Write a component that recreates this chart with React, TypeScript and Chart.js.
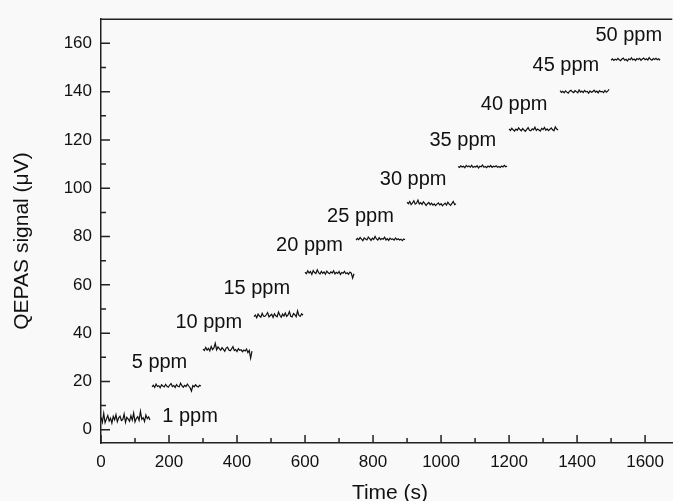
import React, { useEffect, useRef } from "react";
import { Chart, registerables } from "chart.js";

Chart.register(...registerables);

// Sample times within each 150 s concentration step (s)
const sampleTimes = [
  0, 4, 8, 12, 16, 20, 24, 28, 32, 36, 40, 44, 48, 52, 56, 60, 64, 68, 72,
  76, 80, 84, 88, 92, 96, 100, 104, 108, 112, 116, 120, 124, 128, 132, 136,
  140, 144,
];

// Start time of each concentration step (s)
const segmentStarts = [0, 150, 300, 450, 600, 750, 900, 1050, 1200, 1350, 1500];

// QEPAS signal (µV) for each step
const ppm1 = [5.2, 3.1, 6.8, 2.9, 4.4, 5.9, 3.6, 4.8, 2.7, 5.5, 4.1, 6.2, 3.3, 4.9, 5.6, 3.8, 4.2, 6.5, 3.0, 5.1, 4.4, 3.5, 5.8, 4.0, 6.9, 3.2, 4.7, 5.4, 3.9, 7.6, 4.3, 5.0, 3.4, 6.1, 4.6, 5.3, 4.0];
const ppm5 = [17.8, 18.4, 17.5, 18.9, 17.9, 18.2, 17.4, 18.6, 18.1, 17.7, 18.8, 18.0, 17.6, 18.5, 19.1, 17.9, 18.3, 17.5, 18.7, 18.0, 17.8, 19.3, 18.2, 17.6, 18.4, 17.9, 18.9, 18.1, 17.4, 16.0, 18.3, 17.8, 18.6, 18.0, 17.7, 18.4, 18.1];
const ppm10 = [33.4, 32.8, 34.1, 33.0, 33.7, 32.6, 34.5, 33.2, 33.9, 35.8, 33.1, 34.3, 33.6, 32.9, 34.0, 33.3, 32.5, 33.8, 34.2, 33.0, 32.7, 33.5, 34.4, 32.8, 33.2, 32.4, 33.6, 32.9, 33.1, 32.3, 33.0, 32.6, 33.4, 31.9, 32.8, 29.6, 32.5];
const ppm15 = [46.8, 47.5, 46.4, 47.9, 47.1, 46.6, 48.2, 47.0, 46.9, 47.6, 48.5, 46.7, 47.3, 47.8, 46.5, 48.0, 47.2, 46.8, 48.7, 47.4, 46.6, 47.9, 47.1, 48.3, 46.9, 47.5, 48.9, 47.0, 46.7, 48.1, 47.6, 46.8, 49.2, 47.3, 46.9, 48.0, 47.4];
const ppm20 = [65.2, 64.6, 65.8, 64.9, 65.5, 64.3, 65.9, 65.1, 64.7, 66.2, 65.0, 64.5, 65.6, 64.8, 65.3, 64.4, 65.7, 65.0, 64.6, 65.4, 64.9, 65.8, 64.5, 65.2, 64.7, 65.5, 64.3, 65.1, 64.8, 65.6, 64.6, 65.0, 64.4, 65.3, 64.9, 62.8, 64.6];
const ppm25 = [78.5, 79.2, 78.7, 79.6, 78.9, 78.3, 79.4, 79.0, 78.6, 79.8, 79.1, 78.4, 79.3, 78.8, 80.1, 79.0, 78.5, 79.5, 78.7, 79.2, 78.9, 79.7, 78.6, 79.1, 78.4, 79.3, 78.8, 79.0, 78.5, 79.4, 78.7, 79.1, 78.6, 78.9, 78.3, 79.0, 78.7];
const ppm30 = [94.2, 93.6, 94.5, 93.2, 93.9, 94.8, 93.4, 93.8, 95.1, 93.5, 94.0, 93.3, 94.4, 93.7, 92.9, 93.6, 94.1, 93.2, 93.8, 93.0, 93.5, 92.8, 93.4, 93.9, 93.1, 93.6, 92.7, 93.3, 93.8, 93.0, 94.2, 93.4, 92.9, 93.7, 94.5, 93.2, 93.6];
const ppm35 = [109.0, 108.6, 109.3, 108.8, 109.1, 108.5, 109.4, 108.9, 109.2, 108.7, 109.5, 108.6, 109.0, 108.8, 109.3, 108.4, 109.1, 108.9, 109.6, 108.7, 109.0, 108.5, 109.2, 108.8, 109.4, 108.6, 109.1, 108.9, 109.3, 108.7, 109.0, 108.6, 109.2, 108.8, 109.5, 108.9, 109.1];
const ppm40 = [124.6, 123.9, 124.8, 124.2, 123.7, 124.5, 124.0, 125.0, 124.3, 123.8, 124.7, 124.1, 123.6, 124.4, 125.1, 124.0, 123.8, 124.6, 124.2, 125.3, 123.9, 124.5, 124.1, 123.7, 124.8, 124.3, 125.2, 124.0, 124.6, 123.9, 124.4, 125.0, 124.2, 123.8, 125.4, 124.5, 124.1];
const ppm45 = [140.4, 139.7, 140.1, 139.5, 140.3, 139.8, 139.4, 140.2, 140.6, 139.9, 139.6, 140.4, 140.0, 139.5, 140.7, 139.8, 140.2, 139.6, 140.5, 139.9, 140.1, 139.4, 140.3, 139.7, 140.0, 140.6, 139.8, 140.2, 139.5, 140.4, 139.9, 140.1, 139.6, 140.5, 139.8, 140.2, 141.0];
const ppm50 = [153.0, 153.6, 152.9, 153.4, 153.1, 153.8, 153.2, 152.8, 153.5, 153.9, 153.0, 153.4, 152.7, 153.6, 153.2, 154.0, 153.1, 153.5, 152.9, 153.7, 153.3, 153.8, 153.0, 153.5, 153.9, 153.2, 153.6, 153.1, 154.1, 153.4, 153.0, 153.7, 153.3, 153.8, 153.2, 153.6, 153.0];

const segments = [ppm1, ppm5, ppm10, ppm15, ppm20, ppm25, ppm30, ppm35, ppm40, ppm45, ppm50];

// Concentration annotations (text, anchored in data coordinates)
const concLabels = ["1 ppm", "5 ppm", "10 ppm", "15 ppm", "20 ppm", "25 ppm", "30 ppm", "35 ppm", "40 ppm", "45 ppm", "50 ppm"];
const concLabelX = [262, 172, 317, 458, 613, 763, 918, 1064, 1215, 1367, 1552];
const concLabelY = [5.6, 28, 44.6, 58.5, 76.5, 88.5, 103.7, 119.6, 134.6, 150.7, 163.2];

// Axis ticks
const xTicks = [0, 200, 400, 600, 800, 1000, 1200, 1400, 1600];
const xMinorTicks = [100, 300, 500, 700, 900, 1100, 1300, 1500];
const yTicks = [0, 20, 40, 60, 80, 100, 120, 140, 160];
const yMinorTicks = [10, 30, 50, 70, 90, 110, 130, 150];

const xTitle = "Time (s)";
const yTitle = "QEPAS signal (\u03BCV)";

const FONT = "'Liberation Sans', Arial, sans-serif";

export default function App() {
  const ref = useRef<HTMLCanvasElement>(null);

  useEffect(() => {
    if (!ref.current) return;

    const datasets = segments.map((vals, i) => ({
      data: vals.map((v, j) => ({ x: segmentStarts[i] + sampleTimes[j], y: v })),
      borderColor: "#111",
      borderWidth: 1.2,
      pointRadius: 0,
      tension: 0,
      fill: false,
    }));

    const decor = {
      id: "decor",
      beforeDraw(chart: any) {
        const ctx = chart.ctx;
        ctx.save();
        ctx.fillStyle = "#f9f9f9";
        ctx.fillRect(0, 0, chart.width, chart.height);
        ctx.restore();
      },
      afterDraw(chart: any) {
        const ctx = chart.ctx;
        const { left, right, top, bottom } = chart.chartArea;
        const xs = chart.scales.x;
        const ys = chart.scales.y;
        ctx.save();
        ctx.strokeStyle = "#222";
        ctx.lineWidth = 1.5;
        // top frame line
        ctx.beginPath();
        ctx.moveTo(left, top);
        ctx.lineTo(right, top);
        ctx.stroke();
        // inward ticks
        ctx.beginPath();
        yTicks.forEach((v) => {
          const p = ys.getPixelForValue(v);
          ctx.moveTo(left, p);
          ctx.lineTo(left + 9, p);
        });
        yMinorTicks.forEach((v) => {
          const p = ys.getPixelForValue(v);
          ctx.moveTo(left, p);
          ctx.lineTo(left + 5, p);
        });
        xTicks.forEach((v) => {
          const p = xs.getPixelForValue(v);
          ctx.moveTo(p, bottom);
          ctx.lineTo(p, bottom - 8);
        });
        xMinorTicks.forEach((v) => {
          const p = xs.getPixelForValue(v);
          ctx.moveTo(p, bottom);
          ctx.lineTo(p, bottom - 5);
        });
        ctx.stroke();

        // concentration labels
        ctx.fillStyle = "#111";
        ctx.font = `20px ${FONT}`;
        ctx.textAlign = "center";
        ctx.textBaseline = "middle";
        concLabels.forEach((t, i) => {
          ctx.fillText(t, xs.getPixelForValue(concLabelX[i]), ys.getPixelForValue(concLabelY[i]));
        });

        // axis titles
        ctx.font = `21px ${FONT}`;
        ctx.textBaseline = "alphabetic";
        ctx.fillText(xTitle, 390, 499);
        ctx.translate(28, 241);
        ctx.rotate(-Math.PI / 2);
        ctx.fillText(yTitle, 0, 0);
        ctx.restore();
      },
    };

    const tickFont = { family: FONT, size: 17 };
    const plain = (v: any) => String(v);

    const chart = new Chart(ref.current, {
      type: "line",
      data: { datasets },
      options: {
        animation: false,
        responsive: true,
        maintainAspectRatio: false,
        layout: { padding: { top: 19, left: 0, right: 0, bottom: 0 } },
        plugins: { legend: { display: false }, tooltip: { enabled: false } },
        scales: {
          x: {
            type: "linear",
            min: 0,
            max: 1680,
            afterBuildTicks: (s: any) => {
              s.ticks = xTicks.map((v) => ({ value: v }));
            },
            afterFit: (s: any) => {
              s.height = 58;
            },
            grid: { display: false, drawTicks: false },
            border: { display: true, color: "#222", width: 1.5 },
            ticks: { padding: 9, color: "#111", font: tickFont, maxRotation: 0, autoSkip: false, callback: plain },
          },
          y: {
            type: "linear",
            min: -5.5,
            max: 170,
            afterBuildTicks: (s: any) => {
              s.ticks = yTicks.map((v) => ({ value: v }));
            },
            afterFit: (s: any) => {
              s.width = 101;
            },
            grid: { display: false, drawTicks: false },
            border: { display: true, color: "#222", width: 1.5 },
            ticks: { padding: 9, color: "#111", font: tickFont, autoSkip: false, callback: plain },
          },
        },
      },
      plugins: [decor],
    } as any);

    return () => chart.destroy();
  }, []);

  return (
    <div style={{ position: "fixed", left: 0, top: 0, width: 673, height: 501 }}>
      <canvas ref={ref} />
    </div>
  );
}
